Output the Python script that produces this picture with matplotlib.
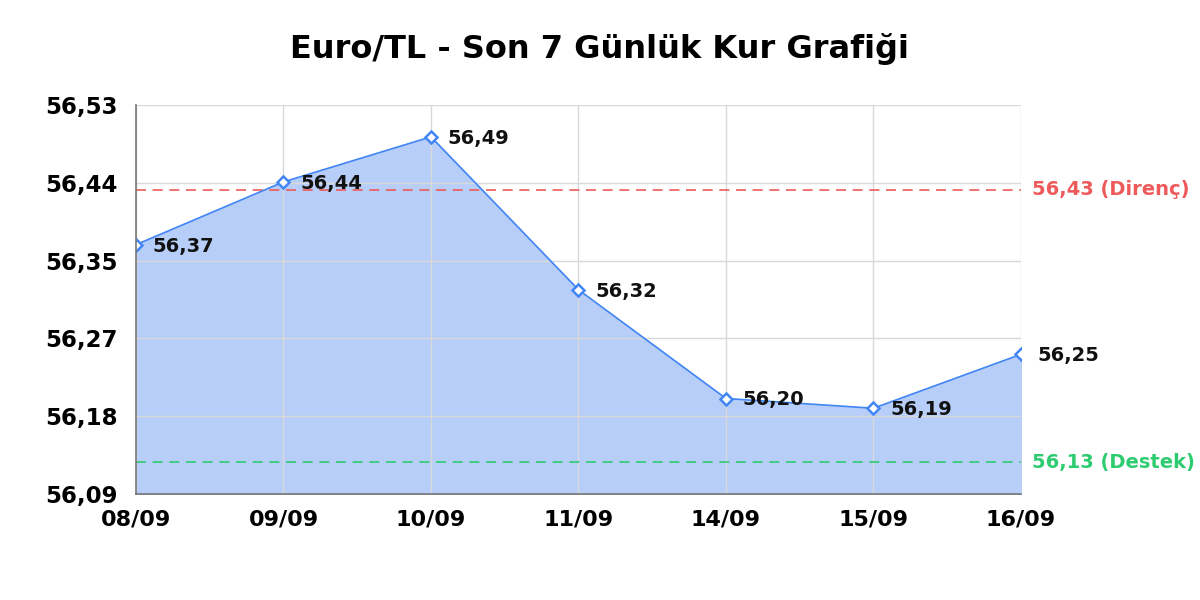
import numpy as np
import matplotlib
matplotlib.use('Agg')
from matplotlib import pyplot as plt

plt.rcParams['font.family'] = ['DejaVu Sans']

# Values
dates = ['08/09', '09/09', '10/09', '11/09', '14/09', '15/09', '16/09']
rates = [56.372, 56.443, 56.494, 56.321, 56.198, 56.187, 56.248]
resistance = 56.434
support = 56.126
y_ticks = [56.09, 56.178, 56.266, 56.354, 56.442, 56.53]

LINE = '#4285f4'
FILL = '#b7cff8'
RED = '#ee5a5a'
GREEN = '#2ecc71'


def fmt(val):
    """Turkish style decimal comma."""
    return f'{val:.2f}'.replace('.', ',')


fig = plt.figure(figsize=(12, 6), dpi=100)
ax = fig.add_axes([0.1133, 0.1767, 0.7375, 0.6483])
x = np.arange(len(dates))

ax.fill_between(x, rates, y_ticks[0], color=FILL, zorder=1)
ax.grid(True, color='#d9d9d9', lw=1, zorder=2)
ax.set_axisbelow(False)
ax.plot(x, rates, color=LINE, lw=1.2, zorder=4)
ax.plot(x, rates, ls='none', marker='D', ms=6.5, mfc='white', mec=LINE,
        mew=1.8, zorder=5)

ax.axhline(resistance, color=RED, ls=(0, (6, 4)), lw=1.2, zorder=3)
ax.axhline(support, color=GREEN, ls=(0, (6, 4)), lw=1.2, zorder=3)

for xi, val in zip(x, rates):
    ax.annotate(fmt(val), (xi, val), xytext=(12, -1),
                textcoords='offset points', va='center', ha='left',
                fontsize=14, fontweight='bold', color='#111111', zorder=6)

ax.annotate(f'{fmt(resistance)} (Direnç)', (1, resistance),
            xycoords=('axes fraction', 'data'), xytext=(8, 0),
            textcoords='offset points', va='center', ha='left',
            fontsize=14, fontweight='bold', color=RED)
ax.annotate(f'{fmt(support)} (Destek)', (1, support),
            xycoords=('axes fraction', 'data'), xytext=(8, 0),
            textcoords='offset points', va='center', ha='left',
            fontsize=14, fontweight='bold', color=GREEN)

ax.set_xlim(0, len(dates) - 1)
ax.set_ylim(y_ticks[0], y_ticks[-1])
ax.set_xticks(x)
ax.set_xticklabels(dates)
ax.set_yticks(y_ticks)
ax.set_yticklabels([fmt(v) for v in y_ticks])
ax.tick_params(axis='y', length=0, labelsize=16.5, pad=13)
ax.tick_params(axis='x', length=0, labelsize=16, pad=11)
for lab in ax.get_xticklabels() + ax.get_yticklabels():
    lab.set_fontweight('bold')

for side in ('top', 'right'):
    ax.spines[side].set_visible(False)
for side in ('left', 'bottom'):
    ax.spines[side].set_color('#777777')
    ax.spines[side].set_linewidth(1.2)
    ax.spines[side].set_zorder(6)

fig.suptitle('Euro/TL - Son 7 Günlük Kur Grafiği', fontsize=23,
             fontweight='bold', y=0.945)

fig.savefig('out.png', dpi=100)
